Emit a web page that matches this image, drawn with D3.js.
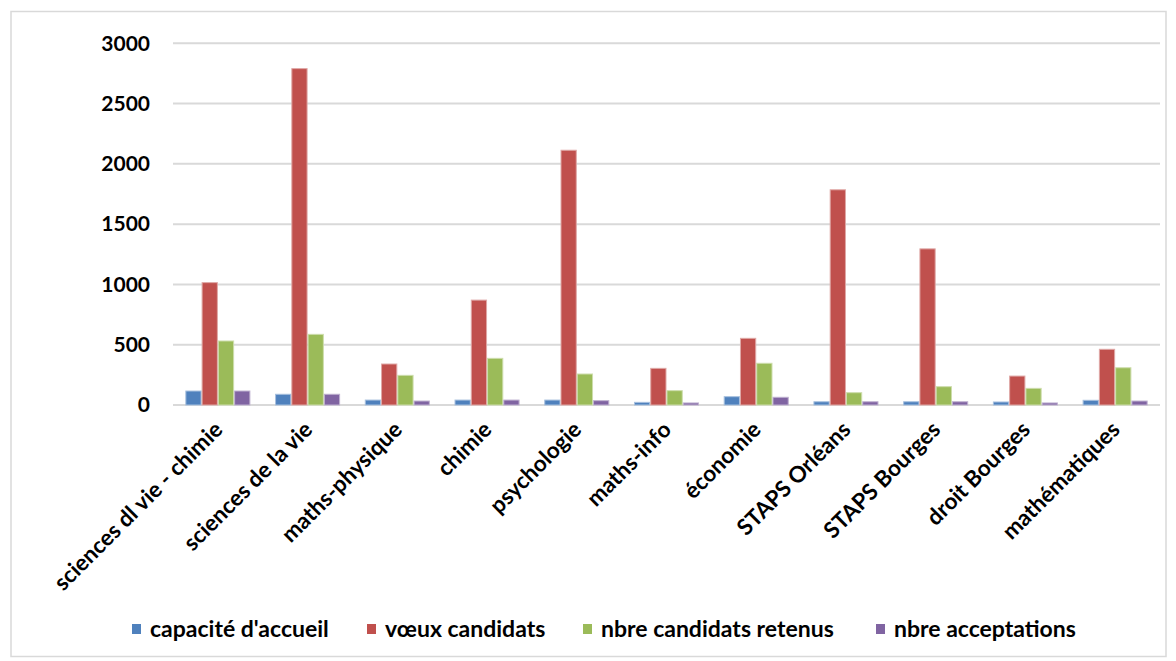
<!DOCTYPE html>
<html>
<head>
<meta charset="utf-8">
<script src="https://cdn.jsdelivr.net/npm/d3@7"></script>
<style>
  html, body { margin: 0; padding: 0; background: #fff; }
  svg { display: block; }
  text { font-family: Lato, "Open Sans", sans-serif; font-weight: bold; fill: #000; }
</style>
</head>
<body>
<svg id="chart" width="1176" height="661"></svg>
<script>
const categories = ["sciences dl vie - chimie", "sciences de la vie", "maths-physique", "chimie", "psychologie", "maths-info", "économie", "STAPS Orléans", "STAPS Bourges", "droit Bourges", "mathématiques"];
const seriesNames = ["capacité d'accueil", "vœux candidats", "nbre candidats retenus", "nbre acceptations"];
const capacite = [116, 89, 41, 41, 41, 22, 69, 27, 27, 25, 39];
const voeux = [1015, 2790, 340, 870, 2113, 304, 553, 1785, 1295, 240, 462];
const retenus = [531, 586, 246, 387, 257, 119, 346, 102, 152, 138, 309];
const acceptations = [116, 89, 33, 41, 36, 17, 64, 27, 27, 17, 33];
const yTicks = [0, 500, 1000, 1500, 2000, 2500, 3000];
const colors = ["#4F81BD", "#C0504D", "#9BBB59", "#8064A2"];
const strokes = ["#A7C0DE", "#DFA8A6", "#CDDDAC", "#BFB1D0"];

const seriesValues = [capacite, voeux, retenus, acceptations];
const svg = d3.select("#chart");

// chart border
svg.append("rect").attr("x", 11).attr("y", 11.5).attr("width", 1155).attr("height", 645)
  .attr("fill", "none").attr("stroke", "#D9D9D9").attr("stroke-width", 1.5);

const plotL = 173, plotR = 1160, plotT = 43.3, plotB = 405;
const x0 = d3.scaleBand().domain(categories).range([plotL, plotR]).paddingInner(0).paddingOuter(0);
const bw = x0.bandwidth();
const groupW = bw * 0.725;
const x1 = d3.scaleBand().domain(seriesNames).range([(bw - groupW) / 2, (bw + groupW) / 2]).padding(0);
const y = d3.scaleLinear().domain([0, 3000]).range([plotB, plotT]);

// gridlines
svg.append("g").selectAll("line").data(yTicks).join("line")
  .attr("x1", plotL).attr("x2", plotR)
  .attr("y1", d => y(d)).attr("y2", d => y(d))
  .attr("stroke", "#D9D9D9").attr("stroke-width", 2);

// y axis labels
const yAxis = d3.axisLeft(y).tickValues(yTicks).tickSize(0).tickPadding(0).tickFormat(d3.format("d"));
const gy = svg.append("g").attr("transform", `translate(150,0)`).call(yAxis);
gy.select(".domain").remove();
gy.selectAll("text").attr("font-size", 21).attr("font-family", "Lato, sans-serif").attr("font-weight", "bold").attr("fill", "#000");

// bars
const groups = svg.append("g").selectAll("g").data(categories).join("g")
  .attr("transform", d => `translate(${x0(d)},0)`);
groups.selectAll("rect").data((d, i) => seriesNames.map((s, k) => ({s, k, v: seriesValues[k][i]})))
  .join("rect")
  .attr("x", d => x1(d.s) + 0.5)
  .attr("width", x1.bandwidth() - 1)
  .attr("y", d => y(d.v))
  .attr("height", d => y(0) - y(d.v))
  .attr("fill", d => colors[d.k])
  .attr("stroke", d => strokes[d.k])
  .attr("stroke-width", 1);

// x axis labels
const xAxis = d3.axisBottom(x0).tickSize(0).tickPadding(0);
const gx = svg.append("g").attr("transform", `translate(0,${plotB})`).call(xAxis);
gx.select(".domain").remove();
gx.selectAll("text")
  .attr("font-size", 22.5).attr("font-family", "Lato, sans-serif").attr("font-weight", "bold").attr("fill", "#000")
  .attr("text-anchor", "end")
  .attr("dy", null).attr("y", null)
  .attr("transform", "translate(2,22) rotate(-45)")
  .attr("dominant-baseline", "middle");

// legend
const legendX = [132, 367, 583, 876];
const legend = svg.append("g").selectAll("g").data(seriesNames).join("g")
  .attr("transform", (d, i) => `translate(${legendX[i]},629)`);
legend.append("rect").attr("x", 0).attr("y", -5).attr("width", 9).attr("height", 10)
  .attr("fill", (d, i) => colors[i]);
legend.append("text").attr("x", 18).attr("y", 0).attr("dy", "0.35em")
  .attr("font-size", 23).text(d => d);
</script>
</body>
</html>
